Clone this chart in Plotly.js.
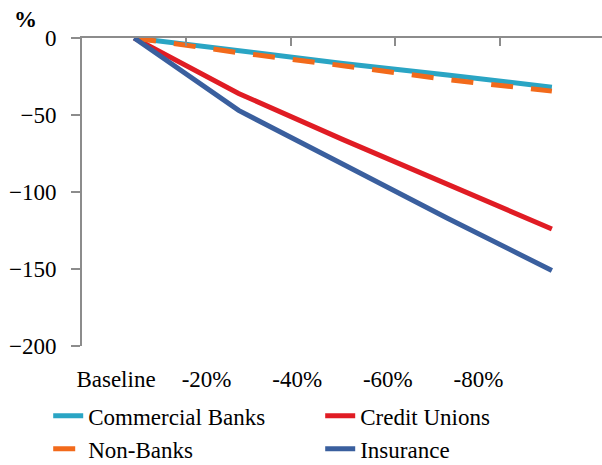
<!DOCTYPE html>
<html><head><meta charset="utf-8">
<script src="https://cdn.plot.ly/plotly-3.0.1.min.js"></script>
<style>html,body{margin:0;padding:0;background:#fff}
#chart text{font-family:"Liberation Serif","Times New Roman",serif !important}</style>
</head><body><div id="chart" style="width:602px;height:465px"></div>
<script>
var categories = ["Baseline", "-20%", "-40%", "-60%", "-80%"];
var commercialBanks = [0, -8.5, -16.5, -24, -32];
var creditUnions = [0, -36, -66, -95, -124];
var nonBanks = [0, -9.5, -18, -27, -34.5];
var insurance = [0, -47, -82, -117, -151];
var yTicks = [0, -50, -100, -150, -200];

var FONT = "Liberation Serif";
function line(name, y, color, dash) {
  return {type: "scatter", mode: "lines", name: name, x: categories, y: y,
    xaxis: "x2", yaxis: "y",
    line: {color: color, width: 5, dash: dash || "solid"}, hoverinfo: "skip"};
}
var data = [
  {type: "scatter", mode: "lines", x: categories, y: categories.map(function(){return null;}),
   xaxis: "x", yaxis: "y", showlegend: false, hoverinfo: "skip"},
  line("Commercial Banks", commercialBanks, "#2aa5c4"),
  line("Credit Unions", creditUnions, "#e01c24"),
  line("Non-Banks", nonBanks, "#f26a1b", "22px,18px"),
  line("Insurance", insurance, "#3a5f9e")
];
var layout = {
  width: 602, height: 465,
  margin: {l: 82, r: 0, t: 38, b: 119, autoexpand: false},
  paper_bgcolor: "#fff", plot_bgcolor: "#fff",
  font: {family: FONT, size: 23, color: "#000"},
  showlegend: true,
  xaxis: {type: "category", categoryarray: categories, range: [-0.375, 5.364],
    showline: false, showgrid: false, zeroline: false, ticks: "",
    ticklabelstandoff: 17, tickfont: {family: FONT, size: 23, color: "#000"}},
  xaxis2: {type: "category", categoryarray: categories, overlaying: "x", side: "top", anchor: "y",
    range: [-0.5, 4.48], showline: true, linecolor: "#8c8c8c", linewidth: 2,
    ticks: "inside", tickson: "boundaries", ticklen: 8, tickcolor: "#8c8c8c", tickwidth: 2,
    showticklabels: false, showgrid: false, zeroline: false},
  yaxis: {range: [-200, 0], tickvals: yTicks, showline: true, linecolor: "#8c8c8c", linewidth: 2,
    ticks: "outside", ticklen: 9, tickcolor: "#8c8c8c", tickwidth: 2, showgrid: false, zeroline: false,
    ticklabelstandoff: 10, tickfont: {family: FONT, size: 23, color: "#000"}},
  legend: {orientation: "h", x: -0.065, xanchor: "left", y: -0.157, yanchor: "top",
    entrywidth: 227, tracegroupgap: 0, font: {family: FONT, size: 23, color: "#000"},
    bgcolor: "rgba(0,0,0,0)"},
  annotations: [{text: "<b>%</b>", xref: "paper", yref: "paper", x: -0.108, y: 1.06,
    xanchor: "center", yanchor: "middle", showarrow: false,
    font: {family: FONT, size: 23, color: "#000"}}]
};
Plotly.newPlot("chart", data, layout, {displayModeBar: false, staticPlot: true});
</script></body></html>
